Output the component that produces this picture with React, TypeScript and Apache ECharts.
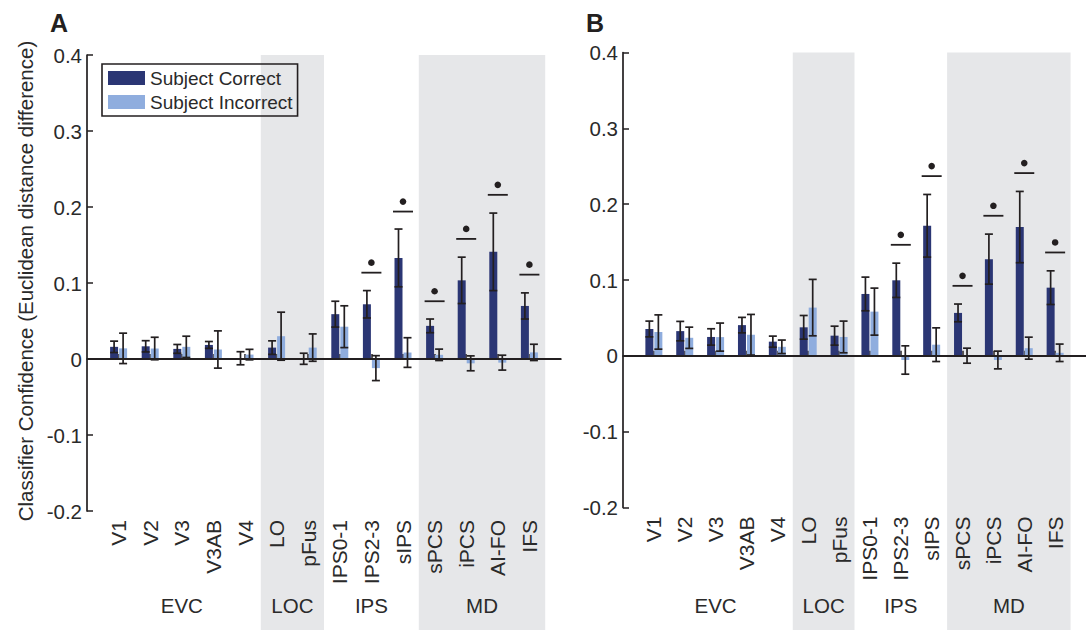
import React, { useEffect, useRef } from "react";
import * as echarts from "echarts";

// ---------- data ----------
const regions = ["V1", "V2", "V3", "V3AB", "V4", "LO", "pFus", "IPS0-1", "IPS2-3", "sIPS", "sPCS", "iPCS", "AI-FO", "IFS"];
const groupNames = ["EVC", "LOC", "IPS", "MD"];
const groupStart = [1, 6, 8, 11];
const groupEnd = [5, 7, 10, 14];
const groupShaded = [0, 1, 0, 1];
const yTicks = [-0.2, -0.1, 0, 0.1, 0.2, 0.3, 0.4];
const yTickLabels = ["-0.2", "-0.1", "0", "0.1", "0.2", "0.3", "0.4"];
const seriesNames = ["Subject Correct", "Subject Incorrect"];

// Panel A
const correctA = [0.016, 0.0167, 0.0133, 0.0185, 0.001, 0.015, 0.0003, 0.059, 0.072, 0.133, 0.0436, 0.1035, 0.141, 0.0698];
const correctSemA = [0.0075, 0.0074, 0.0058, 0.0045, 0.0086, 0.0089, 0.0073, 0.017, 0.018, 0.038, 0.009, 0.0305, 0.051, 0.0172];
const incorrectA = [0.014, 0.0138, 0.016, 0.0125, 0.0058, 0.03, 0.015, 0.0425, -0.012, 0.0085, 0.0055, -0.0057, -0.0048, 0.0087];
const incorrectSemA = [0.02, 0.0148, 0.014, 0.0245, 0.0069, 0.0316, 0.018, 0.0275, 0.0164, 0.0195, 0.0075, 0.0098, 0.0098, 0.0107];
const sigA = [null, null, null, null, null, null, null, null, 0.1136, 0.194, 0.076, 0.158, 0.216, 0.111];

// Panel B
const correctB = [0.0354, 0.0326, 0.0249, 0.0405, 0.0187, 0.0376, 0.0266, 0.0816, 0.0996, 0.1715, 0.0566, 0.1275, 0.1698, 0.0899];
const correctSemB = [0.0104, 0.0128, 0.0108, 0.0102, 0.0073, 0.0156, 0.0125, 0.0222, 0.0226, 0.0413, 0.0117, 0.033, 0.047, 0.0222];
const incorrectB = [0.0314, 0.0238, 0.0247, 0.0278, 0.0119, 0.0636, 0.0249, 0.0583, -0.0055, 0.0147, 0.0002, -0.0055, 0.0101, 0.004];
const incorrectSemB = [0.0226, 0.014, 0.0185, 0.0268, 0.0089, 0.0372, 0.0209, 0.031, 0.0187, 0.0222, 0.0099, 0.0117, 0.0145, 0.0115];
const sigB = [null, null, null, null, null, null, null, null, 0.1464, 0.237, 0.0923, 0.1847, 0.241, 0.1363];

// ---------- style ----------
const FONT = "'Liberation Sans', Arial, Helvetica, sans-serif";
const INK = "#231f20";
const TEXT = "#2a2a2a";
const DARK = "#2b3674";
const LIGHT = "#8fadde";
const BAND = "#e6e7e9";
const BAR_W = 8;
const BAR_GAP_PX = 1;
const CAP = 8;
const Y_MIN = -0.2;
const Y_MAX = 0.4;
const GROUP_LABEL_Y = 605;

const categories = ["", ...regions, ""];

function App() {
  const ref = useRef<HTMLDivElement>(null);

  useEffect(() => {
    document.body.style.margin = "0";
    if (!ref.current) return;
    const chart = echarts.init(ref.current, null, { renderer: "svg" });

    const off = (BAR_W + BAR_GAP_PX) / 2;

    const errRender = (offset: number) => (params: any, api: any) => {
      const xi = api.value(0);
      const m = api.value(1);
      const s = api.value(2);
      const top = api.coord([xi, m + s]);
      const bot = api.coord([xi, m - s]);
      const x = top[0] + offset;
      const style = { stroke: INK, lineWidth: 1.7, fill: null };
      return {
        type: "group",
        children: [
          { type: "line", shape: { x1: x, y1: top[1], x2: x, y2: bot[1] }, style },
          { type: "line", shape: { x1: x - CAP / 2, y1: top[1], x2: x + CAP / 2, y2: top[1] }, style },
          { type: "line", shape: { x1: x - CAP / 2, y1: bot[1], x2: x + CAP / 2, y2: bot[1] }, style },
        ],
      };
    };

    const sigRender = (params: any, api: any) => {
      const p = api.coord([api.value(0), api.value(1)]);
      const half = BAR_W + BAR_GAP_PX / 2 + 1.5;
      return {
        type: "group",
        children: [
          { type: "line", shape: { x1: p[0] - half, y1: p[1], x2: p[0] + half, y2: p[1] }, style: { stroke: INK, lineWidth: 1.8 } },
          { type: "circle", shape: { cx: p[0], cy: p[1] - 10, r: 3.3 }, style: { fill: INK } },
        ],
      };
    };

    const bandRender = (params: any, api: any) => {
      const s = api.value(0);
      const e = api.value(1);
      const shaded = api.value(2);
      const bw = api.size([1, 0])[0];
      const p0 = api.coord([s, Y_MAX]);
      const p1 = api.coord([e, Y_MAX]);
      const x0 = p0[0] - bw / 2;
      const x1 = p1[0] + bw / 2;
      const children: any[] = [];
      if (shaded) {
        children.push({
          type: "rect",
          shape: { x: x0, y: p0[1], width: x1 - x0, height: api.getHeight() - p0[1] },
          style: { fill: BAND },
        });
      }
      children.push({
        type: "text",
        x: (x0 + x1) / 2,
        y: GROUP_LABEL_Y,
        style: {
          text: groupNames[params.dataIndex],
          fill: TEXT,
          fontSize: 20.5,
          fontFamily: FONT,
          align: "center",
          verticalAlign: "middle",
        },
      });
      return { type: "group", children };
    };

    const bandData = groupNames.map((_, i) => [groupStart[i], groupEnd[i], groupShaded[i]]);
    const padBar = (arr: number[]) => ["-", ...arr, "-"];
    const errData = (m: number[], s: number[]) => regions.map((_, i) => [i + 1, m[i], s[i]]);
    const sigData = (arr: (number | null)[]) =>
      arr.map((v, i) => (v == null ? null : [i + 1, v])).filter((d) => d != null);

    const panels = [
      { grid: { left: 87, top: 55, width: 474, height: 456 }, c: correctA, cs: correctSemA, ic: incorrectA, is: incorrectSemA, sig: sigA },
      { grid: { left: 623, top: 52.5, width: 472, height: 455 }, c: correctB, cs: correctSemB, ic: incorrectB, is: incorrectSemB, sig: sigB },
    ];

    const tickFilter = (index: number) => index > 0 && index < categories.length - 1;

    const xAxis = panels.map((_, k) => ({
      type: "category",
      gridIndex: k,
      data: categories,
      boundaryGap: false,
      axisLine: { lineStyle: { color: INK, width: 1.7 } },
      axisTick: { inside: true, length: 5, interval: tickFilter, lineStyle: { color: INK, width: 1.5 } },
      axisLabel: { interval: 0, rotate: 90, margin: 9, fontSize: 21, fontFamily: FONT, color: TEXT },
      splitLine: { show: false },
    }));

    const yAxis = panels.map((_, k) => ({
      type: "value",
      gridIndex: k,
      min: Y_MIN,
      max: Y_MAX,
      interval: 0.1,
      axisLine: { show: true, lineStyle: { color: INK, width: 1.7 } },
      axisTick: { show: true, inside: true, length: 6, lineStyle: { color: INK, width: 1.5 } },
      axisLabel: {
        margin: 5,
        fontSize: 20.5,
        fontFamily: FONT,
        color: TEXT,
        formatter: (v: number) => {
          const idx = yTicks.findIndex((t) => Math.abs(t - v) < 1e-9);
          return idx >= 0 ? yTickLabels[idx] : "";
        },
      },
      splitLine: { show: false },
    }));

    const series: any[] = [];
    panels.forEach((p, k) => {
      series.push({
        type: "custom",
        xAxisIndex: k,
        yAxisIndex: k,
        z: -10,
        clip: false,
        silent: true,
        renderItem: bandRender,
        encode: { x: [0, 1], y: 2 },
        data: bandData,
      });
      series.push({
        type: "bar",
        name: seriesNames[0],
        xAxisIndex: k,
        yAxisIndex: k,
        barWidth: BAR_W,
        barGap: `${(BAR_GAP_PX / BAR_W) * 100}%`,
        itemStyle: { color: DARK },
        data: padBar(p.c),
        z: 2,
        markLine: {
          silent: true,
          symbol: "none",
          label: { show: false },
          lineStyle: { color: INK, width: 1.8, type: "solid" },
          data: [{ yAxis: 0 }],
        },
      });
      series.push({
        type: "bar",
        name: seriesNames[1],
        xAxisIndex: k,
        yAxisIndex: k,
        barWidth: BAR_W,
        itemStyle: { color: LIGHT },
        data: padBar(p.ic),
        z: 2,
      });
      series.push({
        type: "custom",
        xAxisIndex: k,
        yAxisIndex: k,
        z: 4,
        clip: false,
        silent: true,
        renderItem: errRender(-off),
        encode: { x: 0, y: 1 },
        data: errData(p.c, p.cs),
      });
      series.push({
        type: "custom",
        xAxisIndex: k,
        yAxisIndex: k,
        z: 4,
        clip: false,
        silent: true,
        renderItem: errRender(off),
        encode: { x: 0, y: 1 },
        data: errData(p.ic, p.is),
      });
      series.push({
        type: "custom",
        xAxisIndex: k,
        yAxisIndex: k,
        z: 4,
        clip: false,
        silent: true,
        renderItem: sigRender,
        encode: { x: 0, y: 1 },
        data: sigData(p.sig),
      });
    });

    chart.setOption({
      animation: false,
      backgroundColor: "#ffffff",
      grid: panels.map((p) => ({ ...p.grid, containLabel: false })),
      xAxis,
      yAxis,
      legend: {
        data: seriesNames,
        orient: "vertical",
        left: 102,
        top: 64,
        icon: "rect",
        itemWidth: 37,
        itemHeight: 14,
        itemGap: 4,
        padding: [4, 5, 4, 6],
        borderColor: INK,
        borderWidth: 1.6,
        backgroundColor: "transparent",
        textStyle: { fontSize: 19, lineHeight: 20, fontFamily: FONT, color: TEXT },
        selectedMode: false,
      },
      graphic: [
        {
          type: "text",
          x: 25,
          y: 281,
          rotation: Math.PI / 2,
          style: {
            text: "Classifier Confidence (Euclidean distance difference)",
            fontSize: 20.5,
            fontFamily: FONT,
            fill: TEXT,
            align: "center",
            verticalAlign: "middle",
          },
        },
        {
          type: "text",
          x: 50,
          y: 23,
          style: { text: "A", fontSize: 25, fontWeight: "bold", fontFamily: FONT, fill: INK, align: "left", verticalAlign: "middle" },
        },
        {
          type: "text",
          x: 586,
          y: 23,
          style: { text: "B", fontSize: 25, fontWeight: "bold", fontFamily: FONT, fill: INK, align: "left", verticalAlign: "middle" },
        },
      ],
      series,
    });

    return () => chart.dispose();
  }, []);

  return <div ref={ref} style={{ width: 1086, height: 630 }} />;
}

export default App;
